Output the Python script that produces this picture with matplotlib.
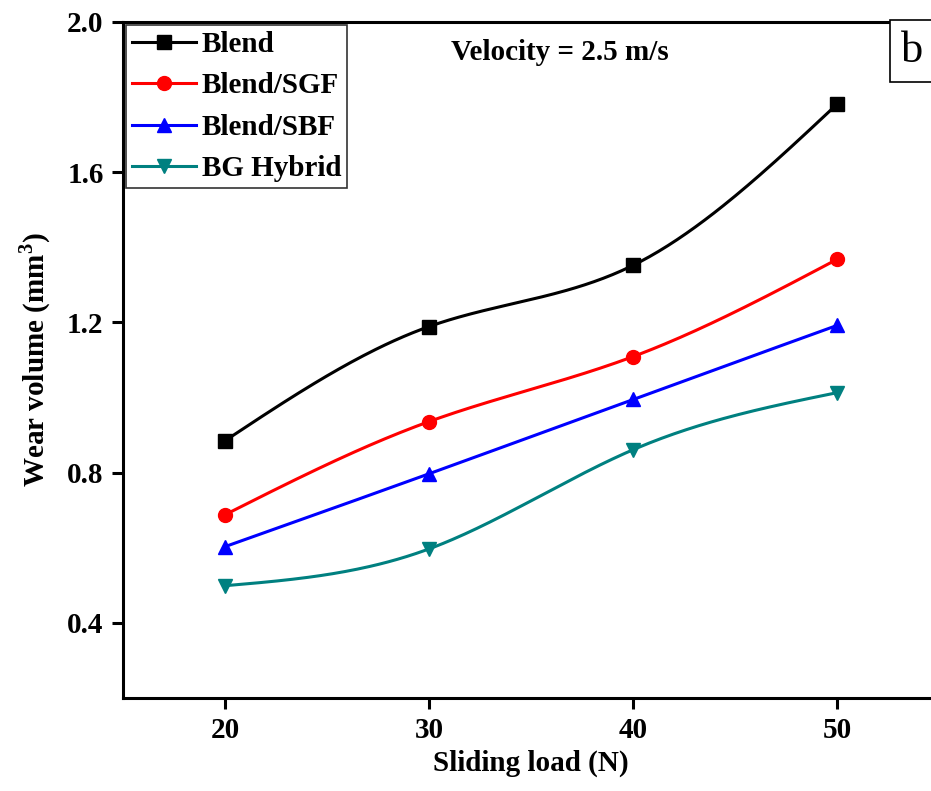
import numpy as np
import matplotlib
matplotlib.use('Agg')
import matplotlib.pyplot as plt
from matplotlib.lines import Line2D

plt.rcParams['font.family'] = 'Liberation Serif'
plt.rcParams['font.weight'] = 'bold'
plt.rcParams['mathtext.fontset'] = 'custom'
plt.rcParams['mathtext.rm'] = 'Liberation Serif:bold'
plt.rcParams['mathtext.bf'] = 'Liberation Serif:bold'

# data
load = [20, 30, 40, 50]
blend = [0.885, 1.189, 1.352, 1.781]
blend_sgf = [0.688, 0.936, 1.109, 1.368]
blend_sbf = [0.603, 0.797, 0.995, 1.192]
bg_hybrid = [0.499, 0.597, 0.861, 1.013]

series = [
    ('Blend', blend, 'black', 's'),
    ('Blend/SGF', blend_sgf, 'red', 'o'),
    ('Blend/SBF', blend_sbf, 'blue', '^'),
    ('BG Hybrid', bg_hybrid, '#008080', 'v'),
]


def natural_spline(x, y, n=200):
    """smooth line through the points (natural cubic spline)"""
    x = np.asarray(x, float)
    y = np.asarray(y, float)
    k = len(x)
    h = np.diff(x)
    A = np.zeros((k, k))
    b = np.zeros(k)
    A[0, 0] = A[-1, -1] = 1
    for i in range(1, k - 1):
        A[i, i - 1] = h[i - 1]
        A[i, i] = 2 * (h[i - 1] + h[i])
        A[i, i + 1] = h[i]
        b[i] = 6 * ((y[i + 1] - y[i]) / h[i] - (y[i] - y[i - 1]) / h[i - 1])
    M = np.linalg.solve(A, b)
    xs = np.linspace(x[0], x[-1], n)
    idx = np.clip(np.searchsorted(x, xs) - 1, 0, k - 2)
    x0, x1 = x[idx], x[idx + 1]
    hh = x1 - x0
    ys = (M[idx] * (x1 - xs) ** 3 / (6 * hh) + M[idx + 1] * (xs - x0) ** 3 / (6 * hh)
          + (y[idx] / hh - M[idx] * hh / 6) * (x1 - xs)
          + (y[idx + 1] / hh - M[idx + 1] * hh / 6) * (xs - x0))
    return xs, ys


fig = plt.figure(figsize=(9.31, 7.91), dpi=100)
ax = fig.add_axes([123 / 931, 93 / 791, 816 / 931, 676 / 791])

handles = []
for name, vals, color, mk in series:
    xs, ys = natural_spline(load, vals)
    ax.plot(xs, ys, color=color, lw=2.2)
    ax.plot(load, vals, mk, color=color, markersize=10, ls='none')
    handles.append(Line2D([], [], color=color, lw=2.2, marker=mk, markersize=10, label=name))

ax.set_xlim(15, 55)
ax.set_ylim(0.2, 2.0)
ax.set_xticks([20, 30, 40, 50])
ax.set_yticks([0.4, 0.8, 1.2, 1.6, 2.0])
ax.set_yticklabels(['0.4', '0.8', '1.2', '1.6', '2.0'])
for s in ax.spines.values():
    s.set_linewidth(2.2)
ax.spines['right'].set_visible(False)
ax.tick_params(direction='out', length=8, width=2.2, labelsize=21, pad=6)

ax.set_xlabel('Sliding load (N)', fontsize=21, fontweight='bold', labelpad=4)
ax.set_ylabel(r'Wear volume (mm$^\mathbf{3}$)', fontsize=21, fontweight='bold', labelpad=10)

leg = ax.legend(handles=handles, loc='upper left', bbox_to_anchor=(0.0, 1.0), fontsize=21,
                frameon=True, fancybox=False, edgecolor='black', handlelength=2.2,
                handletextpad=0.2, borderpad=0.2, labelspacing=0.5, borderaxespad=0.1)
leg.get_frame().set_linewidth(1.2)

ax.text(0.535, 0.955, 'Velocity = 2.5 m/s', transform=ax.transAxes, fontsize=21,
        fontweight='bold', ha='center', va='center')
ax.text(0.967, 0.957, 'b', transform=ax.transAxes, fontsize=32, fontweight='normal',
        ha='center', va='center',
        bbox=dict(boxstyle='square,pad=0.25', facecolor='white', edgecolor='black', lw=1.2))

fig.savefig('out.png', dpi=100)
